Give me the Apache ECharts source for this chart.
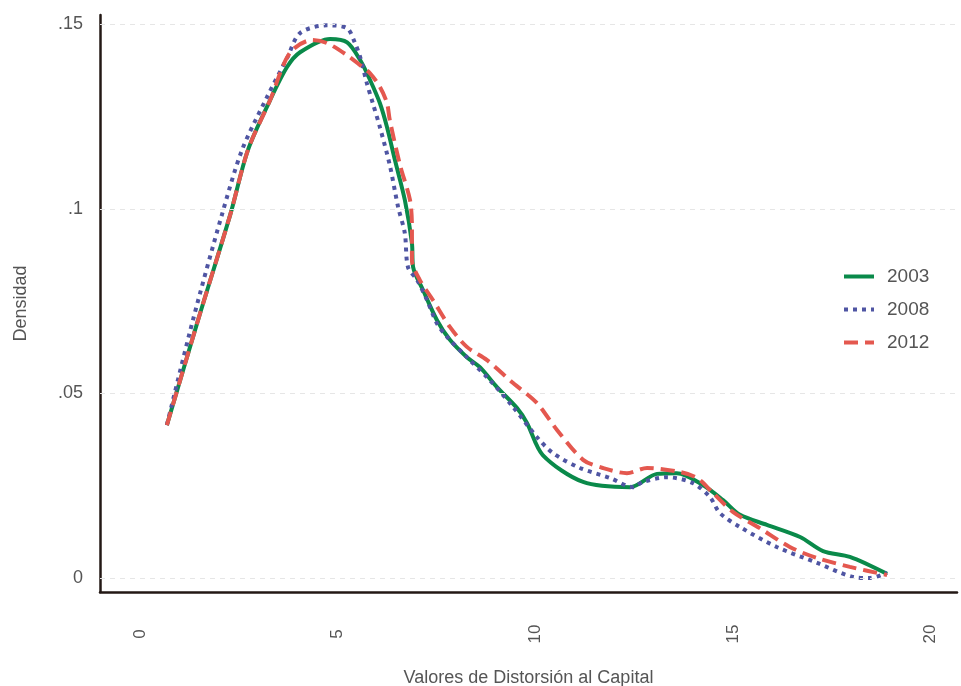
<!DOCTYPE html>
<html>
<head>
<meta charset="utf-8">
<title>Densidad</title>
<script src="https://cdn.jsdelivr.net/npm/echarts@6/dist/echarts.min.js"></script>
<style>
  html, body { margin: 0; padding: 0; background: #fff; }
  #chart { width: 961px; height: 686px; }
</style>
</head>
<body>
<div id="chart"></div>
<script>
// valores
var x2003 = [0.68, 1.47, 2.28, 2.73, 3.29, 3.72, 4.05, 4.81, 5.24, 5.57, 5.82, 6.07, 6.25, 6.45, 6.70, 6.88, 6.91, 7.16, 7.51, 7.84, 8.27, 8.60, 9.03, 9.54, 9.79, 10.19, 11.21, 12.40, 13.08, 13.58, 14.24, 14.75, 15.18, 15.86, 16.70, 17.28, 17.96, 18.90];
var y2003 = [0.0414, 0.0699, 0.0983, 0.1159, 0.1294, 0.1384, 0.1424, 0.1460, 0.1451, 0.1403, 0.1349, 0.1286, 0.1221, 0.1132, 0.1024, 0.0907, 0.0842, 0.0780, 0.0699, 0.0645, 0.0598, 0.0571, 0.0517, 0.0460, 0.0420, 0.0333, 0.0260, 0.0246, 0.0282, 0.0284, 0.0252, 0.0211, 0.0171, 0.0144, 0.0111, 0.0073, 0.0057, 0.0011];

var x2008 = [0.68, 1.34, 2.07, 2.58, 3.21, 3.72, 4.05, 4.73, 5.24, 5.44, 5.57, 5.74, 5.89, 6.07, 6.32, 6.53, 6.70, 6.78, 7.01, 7.26, 7.51, 7.77, 8.27, 8.85, 9.44, 10.04, 10.45, 11.13, 11.89, 12.47, 12.72, 13.33, 13.99, 14.42, 14.67, 15.18, 16.11, 17.13, 18.04, 18.47, 18.90];
var y2008 = [0.0414, 0.0699, 0.0983, 0.1159, 0.1302, 0.1408, 0.1476, 0.1497, 0.1489, 0.1449, 0.1411, 0.1340, 0.1286, 0.1221, 0.1118, 0.1005, 0.0934, 0.0842, 0.0807, 0.0753, 0.0690, 0.0653, 0.0598, 0.0536, 0.0463, 0.0382, 0.0338, 0.0298, 0.0271, 0.0246, 0.0260, 0.0273, 0.0257, 0.0219, 0.0176, 0.0138, 0.0084, 0.0041, 0.0003, 0.0000, 0.0014];

var x2012 = [0.68, 1.47, 2.28, 2.73, 3.29, 3.79, 4.35, 4.73, 5.24, 5.57, 5.82, 6.07, 6.25, 6.32, 6.58, 6.83, 6.88, 6.88, 7.08, 7.41, 7.84, 8.27, 8.78, 9.44, 10.04, 10.55, 11.21, 11.71, 12.32, 12.83, 13.66, 14.09, 14.50, 15.00, 15.68, 16.44, 17.13, 17.96, 18.90];
var y2012 = [0.0414, 0.0699, 0.0983, 0.1159, 0.1294, 0.1422, 0.1457, 0.1449, 0.1416, 0.1389, 0.1367, 0.1330, 0.1286, 0.1240, 0.1118, 0.1024, 0.0950, 0.0861, 0.0807, 0.0753, 0.0680, 0.0626, 0.0590, 0.0528, 0.0474, 0.0401, 0.0320, 0.0298, 0.0284, 0.0298, 0.0287, 0.0271, 0.0230, 0.0179, 0.0135, 0.0084, 0.0054, 0.0030, 0.0008];

var xTicks = [0, 5, 10, 15, 20];
var yTicks = [0, 0.05, 0.1, 0.15];
var yTickLabels = ['0', '.05', '.1', '.15'];

function pares(xs, ys) {
  return xs.map(function (v, i) { return [v, ys[i]]; });
}

var fuente = '"Liberation Sans", Arial, sans-serif';
var gris = '#555555';

var myChart = echarts.init(document.getElementById('chart'));
myChart.setOption({
  animation: false,
  textStyle: { fontFamily: fuente },
  grid: { left: 100, right: 4, top: 15, bottom: 94, containLabel: false, outerBoundsMode: 'none' },
  legend: {
    orient: 'vertical',
    left: 837, top: 262,
    itemWidth: 30, itemHeight: 14, itemGap: 14,
    itemStyle: { opacity: 0 },
    lineStyle: { width: 4 },
    textStyle: { fontSize: 19, color: gris, fontFamily: fuente, padding: [0, 0, 0, 8] },
    data: ['2003', '2008', '2012']
  },
  xAxis: {
    type: 'value',
    min: -1.012, max: 20.67,
    name: 'Valores de Distorsión al Capital',
    nameLocation: 'middle', nameGap: 77,
    nameTextStyle: { fontSize: 18, color: gris, fontFamily: fuente },
    axisLine: { show: true, onZero: false, lineStyle: { color: '#231815', width: 2.5 } },
    axisTick: { show: false },
    splitLine: { show: false },
    axisLabel: {
      customValues: xTicks,
      rotate: 90, align: 'center', verticalAlign: 'middle',
      margin: 42, fontSize: 17, color: gris, fontFamily: fuente
    }
  },
  yAxis: {
    type: 'value',
    min: -0.0038, max: 0.1525,
    name: 'Densidad',
    nameLocation: 'middle', nameGap: 70, nameRotate: 90,
    nameTextStyle: { fontSize: 18, color: gris, fontFamily: fuente },
    axisLine: { show: true, onZero: false, lineStyle: { color: '#231815', width: 2.5 } },
    axisTick: { show: false },
    splitLine: { show: false },
    axisLabel: {
      customValues: yTicks,
      margin: 17, fontSize: 18, color: gris, fontFamily: fuente,
      formatter: function (v) {
        var i = yTicks.indexOf(v);
        return i >= 0 ? yTickLabels[i] : '';
      }
    }
  },
  series: [{
    name: '2003', type: 'line', smooth: 0.3, symbol: 'none',
    data: pares(x2003, y2003),
    lineStyle: { color: '#0a8a4a', width: 4 },
    itemStyle: { color: '#0a8a4a' },
    z: 3,
    markLine: {
      silent: true, symbol: 'none', label: { show: false },
      lineStyle: { color: '#e6e6e6', type: [5, 5], width: 1 },
      data: yTicks.map(function (v) { return { yAxis: v }; })
    }
  }, {
    name: '2008', type: 'line', smooth: 0.3, symbol: 'none',
    data: pares(x2008, y2008),
    lineStyle: { color: '#4f55a3', width: 4, type: [4, 5] },
    itemStyle: { color: '#4f55a3' },
    z: 4
  }, {
    name: '2012', type: 'line', smooth: 0.3, symbol: 'none',
    data: pares(x2012, y2012),
    lineStyle: { color: '#e4584f', width: 4, type: [14, 7] },
    itemStyle: { color: '#e4584f' },
    z: 5
  }]
});
</script>
</body>
</html>
